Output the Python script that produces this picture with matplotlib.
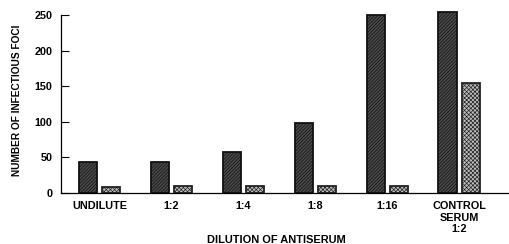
import matplotlib
matplotlib.use("Agg")
import matplotlib.pyplot as plt
import numpy as np

# Data
categories = ["UNDILUTE", "1:2", "1:4", "1:8", "1:16", "CONTROL\nSERUM\n1:2"]
dark_values = [43, 44, 57, 99, 250, 254]
light_values = [9, 10, 10, 10, 10, 155]

plt.rcParams["font.family"] = ["Liberation Sans", "DejaVu Sans"]
plt.rcParams["hatch.linewidth"] = 0.5

fig = plt.figure(figsize=(5.09, 2.44), dpi=100)
ax = fig.add_axes([0.12, 0.209, 0.88, 0.758])

x = np.arange(len(categories))
width = 0.26
offset = 0.16

ax.bar(x - offset, dark_values, width, color="#4a4a4a", edgecolor="#111111",
       hatch="//////////", linewidth=1.3)
ax.bar(x + offset, light_values, width, color="#bdbdbd", edgecolor="#222222",
       hatch="xxxxxxxx", linewidth=1.3)

ax.set_xlim(-0.535, 5.69)
ax.set_ylim(0, 260)
ax.set_yticks([0, 50, 100, 150, 200, 250])
ax.spines["left"].set_bounds(0, 250)
ax.spines["top"].set_visible(False)
ax.spines["right"].set_visible(False)
ax.spines["left"].set_linewidth(0.9)
ax.spines["bottom"].set_linewidth(0.9)

ax.tick_params(axis="y", direction="in", length=6, width=0.8, labelsize=7.8, pad=6)
ax.tick_params(axis="x", length=0, labelsize=7.8, pad=6)
ax.set_xticks(x)
ax.set_xticklabels(categories, fontweight="bold", linespacing=1.15)
for lbl in ax.get_yticklabels():
    lbl.set_fontweight("bold")

ax.set_ylabel("NUMBER OF INFECTIOUS FOCI", fontsize=7.3, fontweight="bold", labelpad=9)
ax.set_xlabel("DILUTION OF ANTISERUM", fontsize=7.9, fontweight="bold")
ax.xaxis.set_label_coords(0.48, -0.225)

fig.savefig("out.png", dpi=100)
